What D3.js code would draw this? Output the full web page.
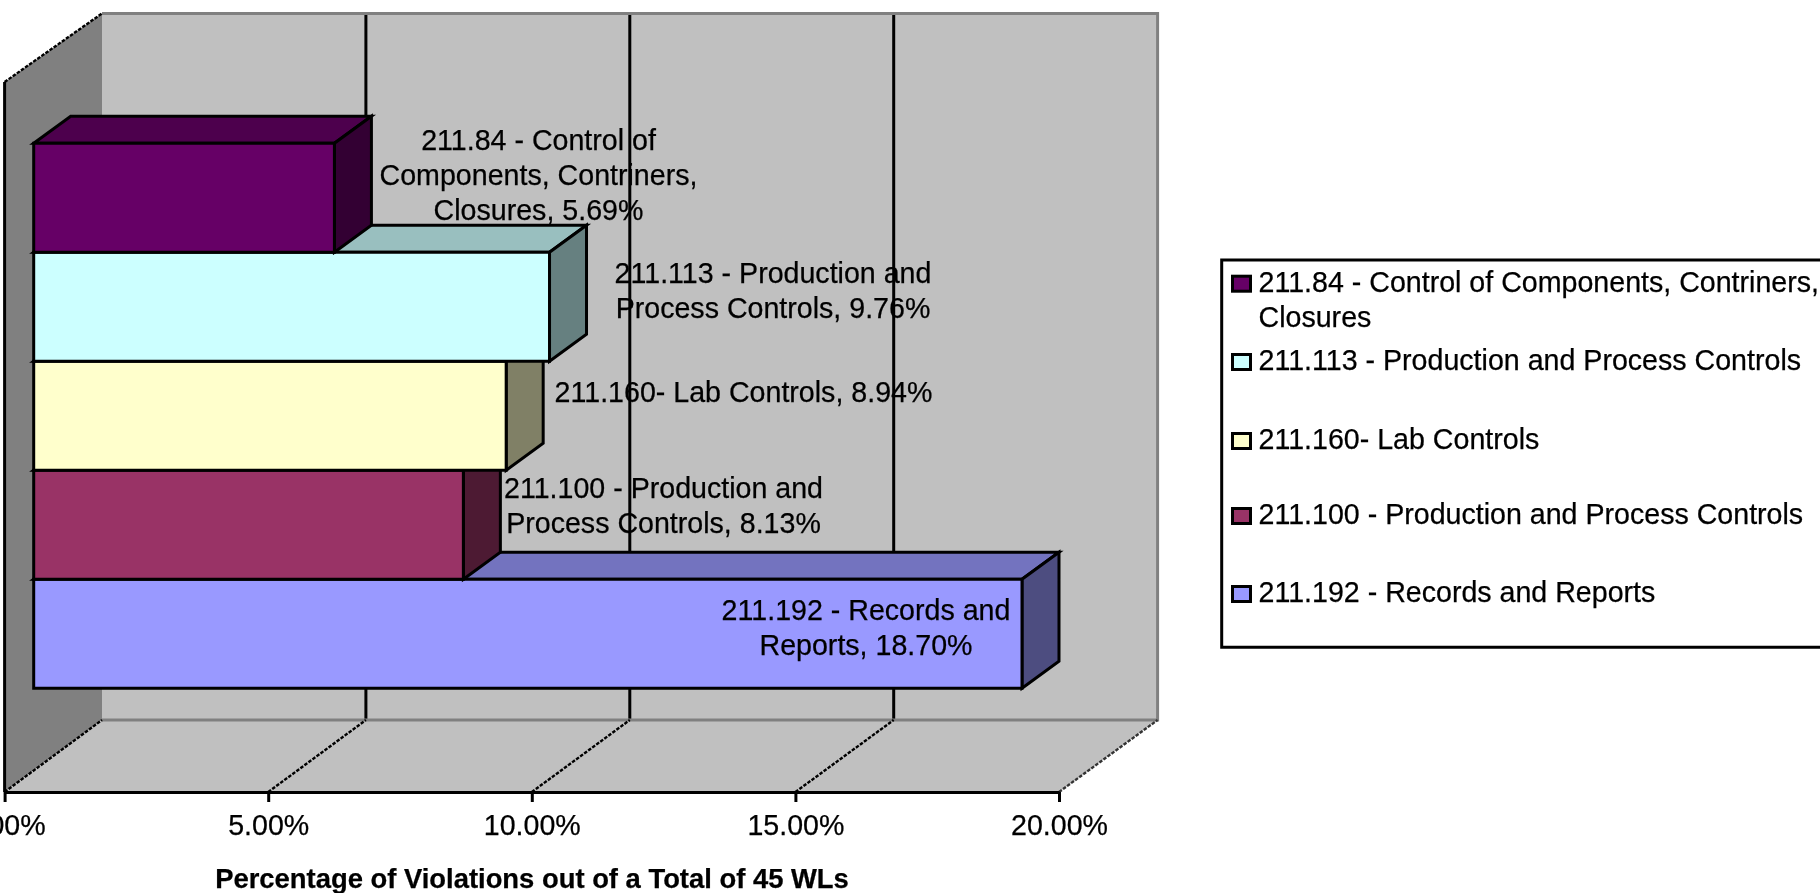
<!DOCTYPE html>
<html><head><meta charset="utf-8">
<style>
html,body{margin:0;padding:0;background:#fff;overflow:hidden}
svg{display:block;filter:blur(0.5px)}
text{font-family:"Liberation Sans",Arial,sans-serif;fill:#000;stroke:#000;stroke-width:0.25px}
</style>
<script src="https://cdn.jsdelivr.net/npm/d3@7"></script>
</head><body><svg id="c" width="1820" height="893"></svg>
<script>
const categories = ["211.84 - Control of Components, Contriners, Closures","211.113 - Production and Process Controls","211.160- Lab Controls","211.100 - Production and Process Controls","211.192 - Records and Reports"];
const values = [5.69, 9.76, 8.94, 8.13, 18.70];
const colors = ["#660066","#CCFFFF","#FFFFCC","#993366","#9999FF"];
const axisTicks = [0,5,10,15,20];
const gridTicks = [5,10,15];
const labelLines = [["211.84 - Control of","Components, Contriners,","Closures, 5.69%"],["211.113 - Production and","Process Controls, 9.76%"],["211.160- Lab Controls, 8.94%"],["211.100 - Production and","Process Controls, 8.13%"],["211.192 - Records and","Reports, 18.70%"]];
const legendLines = [["211.84 - Control of Components, Contriners,","Closures"],["211.113 - Production and Process Controls"],["211.160- Lab Controls"],["211.100 - Production and Process Controls"],["211.192 - Records and Reports"]];
const axisTitle = "Percentage of Violations out of a Total of 45 WLs";

// layout
const W={x0:4.6,x1:1059,yFront:792,yBack:720,top:13.5,dx:98,frontTop:82};
const x=d3.scaleLinear().domain([0,20]).range([W.x0,W.x1]);
const xBack=d3.scaleLinear().domain([0,20]).range([102,1157.6]);
const xBar=d3.scaleLinear().domain([0,20]).range([33.7,33.7+1057]);
const y=d3.scaleBand().domain(categories).range([143.3,688.3]);
const depth={dx:37,dy:27};
const labelCx=[538.5,773,743.5,663.5,866];
const labelBase=[150,283,402,498,619.5];
const legendBase=[291.7,370,449,524,602];
const fs=28.6, lh=35, sw=3;

const svg=d3.select("#c");
const poly=(g,pts,fill,stroke,w)=>g.append("polygon").attr("points",pts.map(p=>p.join(",")).join(" ")).attr("fill",fill).attr("stroke",stroke||"none").attr("stroke-width",w||0).attr("stroke-linejoin","miter");
const dash="3.5 1.5";

// walls
const walls=svg.append("g");
poly(walls,[[102,W.top],[1157.6,W.top],[1157.6,W.yBack],[102,W.yBack]],"#C0C0C0");
poly(walls,[[W.x0,W.frontTop],[102,W.top],[102,W.yBack],[W.x0,W.yFront]],"#808080");
poly(walls,[[W.x0,W.yFront],[102,W.yBack],[1157.6,W.yBack],[W.x1,W.yFront]],"#C0C0C0");
// back wall gridlines
walls.selectAll(".gb").data(gridTicks).join("line").attr("x1",d=>xBack(d)).attr("x2",d=>xBack(d)).attr("y1",W.top).attr("y2",W.yBack).attr("stroke","#000").attr("stroke-width",sw);
// back wall outline
walls.append("path").attr("d",`M102,${W.top}H1157.6V${W.yBack}H102`).attr("fill","none").attr("stroke","#808080").attr("stroke-width",3);
// floor lines
walls.selectAll(".gf").data(axisTicks.slice(0,4)).join("line").attr("x1",d=>x(d)).attr("x2",d=>xBack(d)).attr("y1",W.yFront).attr("y2",W.yBack).attr("stroke","#000").attr("stroke-width",2.4).attr("stroke-dasharray",dash);
walls.append("line").attr("x1",x(20)).attr("x2",xBack(20)).attr("y1",W.yFront).attr("y2",W.yBack).attr("stroke","#333").attr("stroke-width",2.4).attr("stroke-dasharray",dash);
walls.append("line").attr("x1",W.x0).attr("x2",102).attr("y1",W.frontTop).attr("y2",W.top).attr("stroke","#000").attr("stroke-width",2.4).attr("stroke-dasharray",dash);
walls.append("line").attr("x1",W.x0).attr("x2",W.x0).attr("y1",W.frontTop).attr("y2",W.yFront).attr("stroke","#000").attr("stroke-width",sw);

function drawLabel(i){
  const t=svg.append("text").attr("text-anchor","middle").attr("font-size",fs);
  labelLines[i].forEach((l,k)=>t.append("tspan").attr("x",labelCx[i]).attr("y",labelBase[i]+k*lh).text(l));
}
// labels on the wall sit under the bars
[0,1,2,3].forEach(drawLabel);

// bars, drawn bottom to top
const shade=(c,f)=>{const r=d3.rgb(c);return d3.rgb(r.r*f,r.g*f,r.b*f).formatHex();};
d3.range(categories.length-1,-1,-1).forEach(i=>{
  const c=categories[i],g=svg.append("g");
  const l=xBar(0),r=xBar(values[i]),t=y(c),b=t+y.bandwidth();
  poly(g,[[l,t],[l+depth.dx,t-depth.dy],[r+depth.dx,t-depth.dy],[r,t]],shade(colors[i],.75),"#000",sw);
  poly(g,[[r,t],[r+depth.dx,t-depth.dy],[r+depth.dx,b-depth.dy],[r,b]],shade(colors[i],.5),"#000",sw);
  poly(g,[[l,t],[r,t],[r,b],[l,b]],colors[i],"#000",sw);
});
drawLabel(4);

// axis
const axis=d3.axisBottom(x).tickValues(axisTicks).tickFormat(d=>d.toFixed(2)+"%").tickSize(10).tickSizeOuter(0);
const ag=svg.append("g").attr("transform",`translate(0,${W.yFront})`).call(axis);
ag.select(".domain").attr("stroke","#000").attr("stroke-width",sw);
ag.selectAll(".tick line").attr("stroke","#000").attr("stroke-width",sw);
ag.selectAll(".tick text").attr("font-size",fs).attr("font-family",'"Liberation Sans",Arial,sans-serif').attr("fill","#000").attr("dy",null).attr("y",43);

svg.append("text").attr("x",532).attr("y",888).attr("text-anchor","middle").attr("font-size",27.4).attr("font-weight","bold").text(axisTitle);

// legend
const lg=svg.append("g");
lg.append("path").attr("d","M1825,260H1221.7V647.3H1825").attr("fill","#fff").attr("stroke","#000").attr("stroke-width",sw);
categories.forEach((c,i)=>{
  lg.append("rect").attr("x",1232.5).attr("y",legendBase[i]-15.5).attr("width",18).attr("height",15).attr("fill",colors[i]).attr("stroke","#000").attr("stroke-width",sw);
  legendLines[i].forEach((s,k)=>lg.append("text").attr("x",1258.5).attr("y",legendBase[i]+k*lh).attr("font-size",fs).text(s));
});
</script></body></html>
